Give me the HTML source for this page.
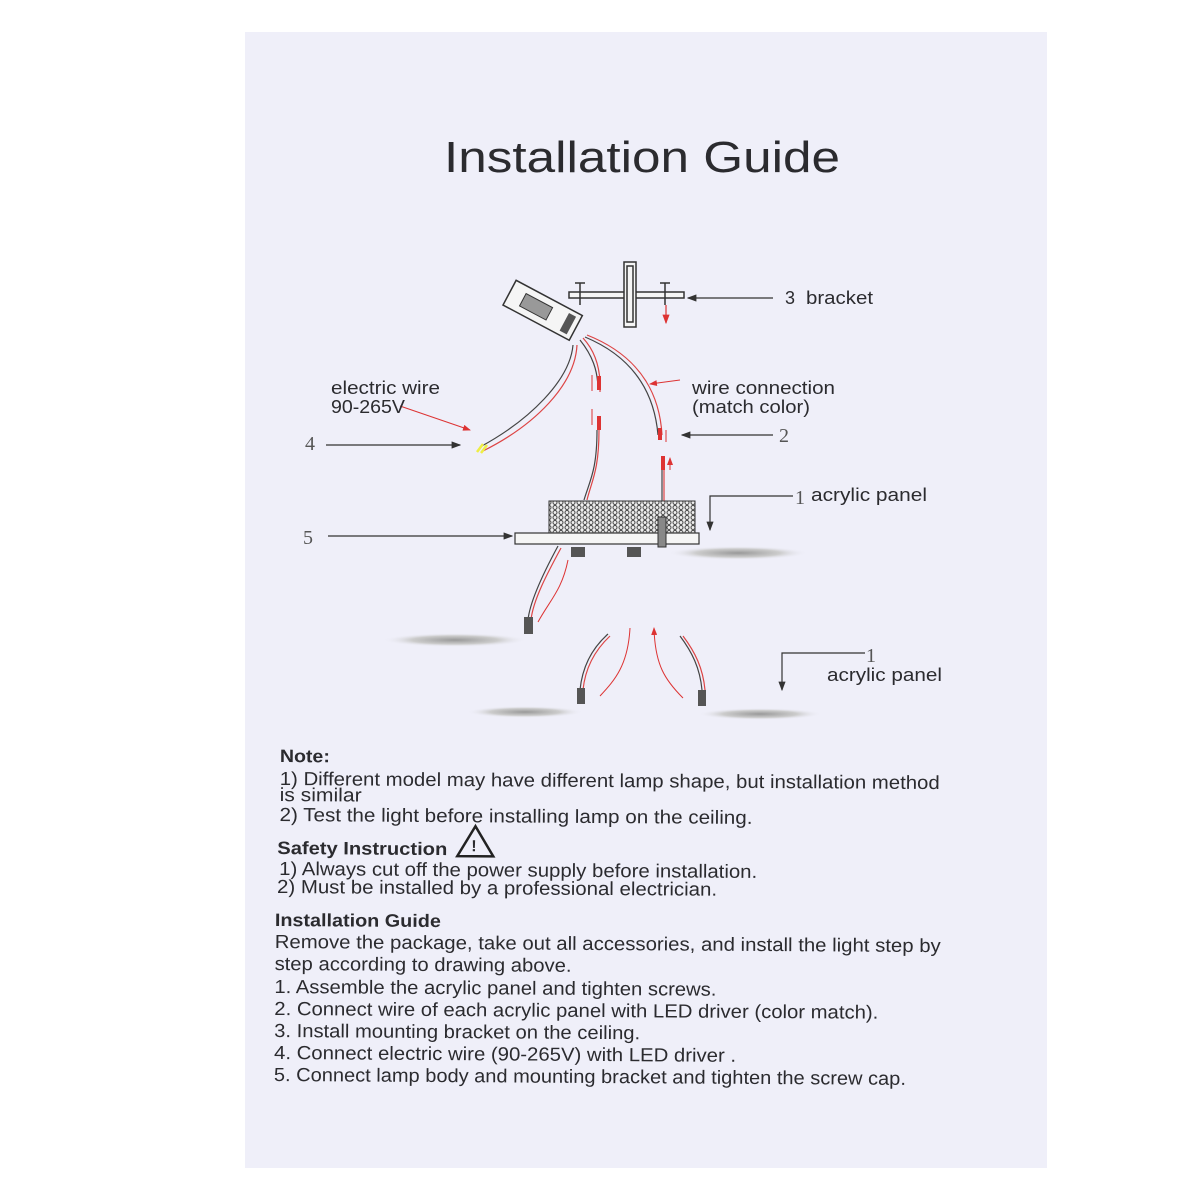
<!DOCTYPE html>
<html><head><meta charset="utf-8"><style>
html,body{margin:0;padding:0;background:#fff;width:1200px;height:1200px;overflow:hidden}
svg{display:block}
text{font-family:"Liberation Sans",sans-serif;fill:#2b2b2f}
.s{font-family:"Liberation Serif",serif;fill:#555}
</style></head><body>
<svg width="1200" height="1200" viewBox="0 0 1200 1200" xmlns="http://www.w3.org/2000/svg">
<defs>
<pattern id="mesh" width="6" height="5" patternUnits="userSpaceOnUse">
<rect width="6" height="5" fill="#eee"/><circle cx="3" cy="2.5" r="2" fill="none" stroke="#444" stroke-width="1"/>
</pattern>
<marker id="ah" markerWidth="8" markerHeight="6" refX="7" refY="3" orient="auto"><path d="M0,0 L8,3 L0,6z" fill="#333"/></marker>
<marker id="rh" markerWidth="8" markerHeight="6" refX="7" refY="3" orient="auto"><path d="M0,0 L8,3 L0,6z" fill="#d33"/></marker>
<radialGradient id="sh" cx="0.5" cy="0.5" r="0.5"><stop offset="0" stop-color="#999"/><stop offset="0.6" stop-color="#ccc"/><stop offset="1" stop-color="#efeff9" stop-opacity="0"/></radialGradient>
</defs>
<rect x="245" y="32" width="802" height="1136" fill="#efeff9"/>
<text x="444" y="172" font-size="44" textLength="396" lengthAdjust="spacingAndGlyphs">Installation Guide</text>

<!-- bracket -->
<g stroke="#333" fill="none" stroke-width="1.5">
<rect x="569" y="292" width="115" height="6" fill="#f5f5f5"/>
<rect x="624" y="262" width="12" height="65" fill="#f5f5f5"/>
<rect x="627" y="266" width="6" height="56"/>
<path d="M580 283v22M575 283h10M665 283v22M660 283h10"/>
</g>
<path d="M666 305v18" stroke="#d33" stroke-width="1.2" marker-end="url(#rh)"/>
<path d="M773 298H688" stroke="#333" stroke-width="1.2" marker-end="url(#ah)"/>
<text x="785" y="304" font-size="18">3</text><text x="806" y="304" font-size="18" textLength="67" lengthAdjust="spacingAndGlyphs">bracket</text>

<!-- driver -->
<g transform="rotate(28 540 310)">
<rect x="505" y="295" width="75" height="28" fill="#f5f5f5" stroke="#333" stroke-width="1.5"/>
<rect x="520" y="302" width="30" height="14" fill="#999" stroke="#333"/>
<rect x="567" y="299" width="8" height="20" fill="#555"/>
</g>
<!-- wires -->
<g fill="none" stroke-width="1.2">
<path d="M573 345 C570 380 530 420 480 447" stroke="#444"/>
<path d="M577 345 C575 385 535 425 483 451" stroke="#d44"/>
<path d="M580 340 C592 355 598 370 598 390" stroke="#444"/>
<path d="M583 338 C596 352 601 370 600 392" stroke="#d44"/>
<path d="M585 337 C640 360 655 400 658 435" stroke="#444"/>
<path d="M587 335 C645 358 660 400 662 435" stroke="#d44"/>
<path d="M597 430 C597 470 590 480 584 500" stroke="#444"/>
<path d="M599 430 C599 470 592 480 587 500" stroke="#d44"/>
<path d="M662 460V518" stroke="#444"/><path d="M664 460V518" stroke="#d44"/>
</g>
<path d="M483 444l-6 8M487 445l-6 8" stroke="#ee4" stroke-width="2.5"/>
<path d="M400 406 L470 430" stroke="#d33" stroke-width="1" marker-end="url(#rh)"/>
<path d="M680 380 L650 384" stroke="#d33" stroke-width="1" marker-end="url(#rh)"/>
<g fill="#d33"><rect x="597" y="376" width="4" height="14"/><rect x="597" y="416" width="4" height="14"/><rect x="658" y="428" width="4" height="12"/><rect x="661" y="456" width="4" height="14"/></g>
<path d="M592 375v16M592 425v-16M666 430v12M670 470v-12" stroke="#d33" stroke-width="1" marker-end="url(#rh)"/>
<text x="331" y="394" font-size="18" textLength="109" lengthAdjust="spacingAndGlyphs">electric wire</text>
<text x="331" y="413" font-size="18" textLength="74" lengthAdjust="spacingAndGlyphs">90-265V</text>
<text x="692" y="394" font-size="18" textLength="143" lengthAdjust="spacingAndGlyphs">wire connection</text>
<text x="692" y="413" font-size="18" textLength="118" lengthAdjust="spacingAndGlyphs">(match color)</text>
<text class="s" x="305" y="450" font-size="20">4</text>
<path d="M326 445H460" stroke="#333" stroke-width="1.2" marker-end="url(#ah)"/>
<path d="M773 435H682" stroke="#333" stroke-width="1.2" marker-end="url(#ah)"/>
<text class="s" x="779" y="442" font-size="20">2</text>

<!-- lamp body -->
<rect x="549" y="501" width="146" height="33" fill="url(#mesh)" stroke="#333"/>
<rect x="515" y="533" width="184" height="11" fill="#f5f5f5" stroke="#333" stroke-width="1.2"/>
<rect x="658" y="517" width="8" height="30" fill="#888" stroke="#333"/>
<rect x="571" y="547" width="14" height="10" fill="#555"/><rect x="627" y="547" width="14" height="10" fill="#555"/>
<text class="s" x="303" y="544" font-size="20">5</text>
<path d="M328 536H512" stroke="#333" stroke-width="1.2" marker-end="url(#ah)"/>
<path d="M793 496H710V530" stroke="#333" stroke-width="1.2" fill="none" marker-end="url(#ah)"/>
<text class="s" x="795" y="504" font-size="20">1</text>
<text x="811" y="501" font-size="18" textLength="116" lengthAdjust="spacingAndGlyphs">acrylic panel</text>
<ellipse cx="738" cy="553" rx="70" ry="7" fill="url(#sh)"/>
<!-- lower panels -->
<g fill="none" stroke-width="1.2">
<path d="M528 620 C530 600 545 570 558 546" stroke="#444"/><path d="M531 620 C533 600 548 572 561 548" stroke="#d44"/>
<path d="M580 690 C582 670 590 650 608 634" stroke="#444"/><path d="M583 690 C585 670 593 652 610 636" stroke="#d44"/>
<path d="M680 636 C692 652 700 668 702 690" stroke="#444"/><path d="M683 636 C695 652 703 668 705 690" stroke="#d44"/>
</g>
<path d="M538 622 C550 600 562 590 568 560M600 696 C615 680 628 665 630 628M683 698 C665 680 655 665 654 628" stroke="#d33" stroke-width="1" fill="none" marker-end="url(#rh)"/>
<g fill="#555"><rect x="524" y="617" width="9" height="17"/><rect x="577" y="688" width="8" height="16"/><rect x="698" y="690" width="8" height="16"/></g>
<ellipse cx="455" cy="640" rx="72" ry="7" fill="url(#sh)"/>
<ellipse cx="525" cy="712" rx="58" ry="6" fill="url(#sh)"/>
<ellipse cx="760" cy="714" rx="62" ry="6" fill="url(#sh)"/>
<path d="M865 653H782V690" stroke="#333" stroke-width="1.2" fill="none" marker-end="url(#ah)"/>
<text class="s" x="866" y="662" font-size="20">1</text>
<text x="827" y="681" font-size="18" textLength="115" lengthAdjust="spacingAndGlyphs">acrylic panel</text>

<!-- notes -->
<g transform="rotate(0.35 600 900)">
<text x="279" y="764" font-size="18" font-weight="bold" textLength="50" lengthAdjust="spacingAndGlyphs">Note:</text>
<text x="279" y="787" font-size="19" textLength="660" lengthAdjust="spacingAndGlyphs">1) Different model may have different lamp shape, but installation method</text>
<text x="279" y="803" font-size="19" textLength="82" lengthAdjust="spacingAndGlyphs">is similar</text>
<text x="279" y="823" font-size="19" textLength="473" lengthAdjust="spacingAndGlyphs">2) Test the light before installing lamp on the ceiling.</text>
<text x="277" y="856" font-size="18" font-weight="bold" textLength="170" lengthAdjust="spacingAndGlyphs">Safety Instruction</text>
<path d="M475 827 L457 857 L493 857 Z" fill="none" stroke="#222" stroke-width="2.5"/>
<text x="471" y="852" font-size="16" font-weight="bold">!</text>
<text x="279" y="877" font-size="19" textLength="478" lengthAdjust="spacingAndGlyphs">1) Always cut off the power supply before installation.</text>
<text x="277" y="895" font-size="19" textLength="440" lengthAdjust="spacingAndGlyphs">2) Must be installed by a professional electrician.</text>
<text x="275" y="928" font-size="18" font-weight="bold" textLength="166" lengthAdjust="spacingAndGlyphs">Installation Guide</text>
<text x="275" y="950" font-size="19" textLength="666" lengthAdjust="spacingAndGlyphs">Remove the package, take out all accessories, and install the light step by</text>
<text x="275" y="972" font-size="19" textLength="297" lengthAdjust="spacingAndGlyphs">step according to drawing above.</text>
<text x="275" y="995" font-size="19" textLength="442" lengthAdjust="spacingAndGlyphs">1. Assemble the acrylic panel and tighten screws.</text>
<text x="275" y="1017" font-size="19" textLength="604" lengthAdjust="spacingAndGlyphs">2. Connect wire of each acrylic panel with LED driver (color match).</text>
<text x="275" y="1039" font-size="19" textLength="366" lengthAdjust="spacingAndGlyphs">3. Install mounting bracket on the ceiling.</text>
<text x="275" y="1061" font-size="19" textLength="462" lengthAdjust="spacingAndGlyphs">4. Connect electric wire (90-265V) with LED driver .</text>
<text x="275" y="1083" font-size="19" textLength="632" lengthAdjust="spacingAndGlyphs">5. Connect lamp body and mounting bracket and tighten the screw cap.</text>
</g>
</svg>
</body></html>
